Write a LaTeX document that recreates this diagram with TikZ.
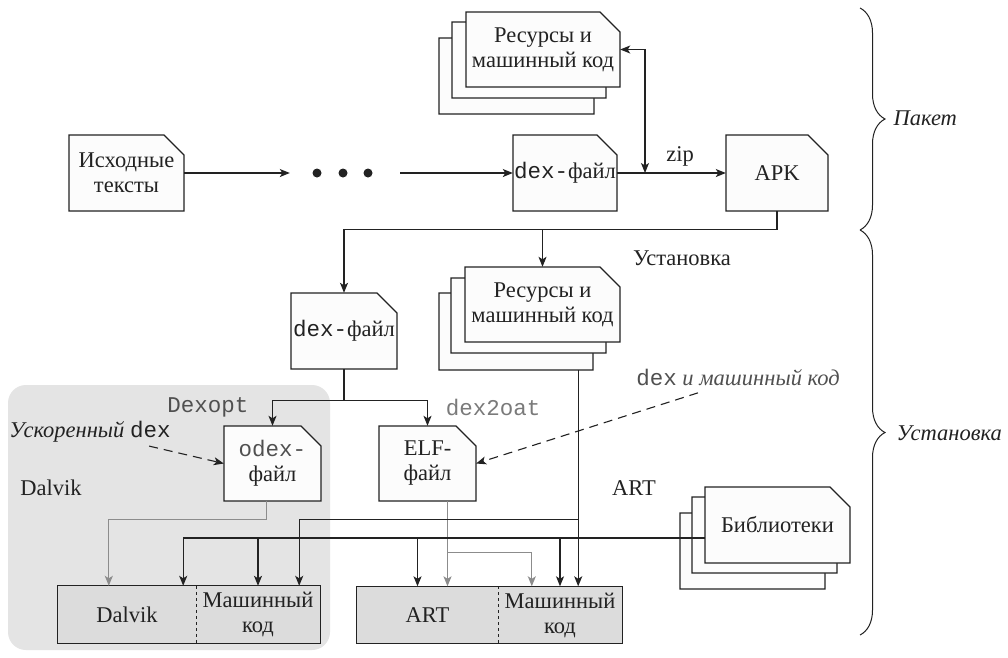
\documentclass[tikz,border=0pt]{standalone}
\usepackage{fontspec}
\setmainfont{Liberation Serif}
\setmonofont{Liberation Mono}
\usetikzlibrary{arrows.meta,decorations.pathreplacing,calc}
\definecolor{ink}{HTML}{222222}
\definecolor{soft}{HTML}{8C8C8C}
\definecolor{region}{HTML}{E4E4E4}
\definecolor{boxgray}{HTML}{DCDCDC}
\definecolor{docwhite}{HTML}{FCFCFC}
\definecolor{monogray}{HTML}{505050}
\definecolor{lightmono}{HTML}{7A7A7A}
\newcommand\dcut{20}
% [opts] name left top right bottom text
\newcommand\docnode[7][]{%
  \filldraw[docshape] (#3,#6) -- (#3,#4) -- ({#5-\dcut},#4) -- (#5,{#4+\dcut}) -- (#5,#6) -- cycle;
  \node[doctext,#1, minimum width={(#5-#3)*1pt}, minimum height={(#6-#4)*1pt}] (#2) at ({(#3+#5)/2},{(#4+#6)/2}) {#7};
}
\begin{document}
\begin{tikzpicture}[x=1pt,y=-1pt,
  >={Stealth[length=10pt,width=8pt,inset=2.5pt]},
  every node/.style={font=\fontsize{22.5}{25}\selectfont, text=ink},
  docshape/.style={draw=ink, fill=docwhite, line width=1.1pt},
  doctext/.style={draw=none, inner sep=0pt, align=center},
  seg/.style={draw=none, fill=boxgray, inner sep=0pt, minimum height=57pt, align=center},
  conn/.style={draw=ink, line width=1.1pt},
  arr/.style={conn, ->},
  garr/.style={draw=soft, line width=1.1pt, ->},
  dasharr/.style={conn, ->, dash pattern=on 9pt off 6pt},
  monolabel/.style={font=\fontsize{22.5}{25}\selectfont\ttfamily},
  bracestyle/.style={draw=ink, line width=1pt, decorate, decoration={brace, amplitude=25pt}}
]
\fill[white] (0,0) rectangle (1008,657);
\useasboundingbox (0,0) rectangle (1008,657);
\fill[region, rounded corners=18pt] (8,385) rectangle (330,650);

% documents
\docnode{src}{69}{135}{184}{211}{Исходные\\тексты}
\docnode{dex1}{513}{135}{617}{211}{\texttt{dex-}файл}
\docnode{res1c}{439}{38}{594}{114}{}
\docnode{res1b}{452}{22}{606}{98}{}
\docnode{res1}{466}{12}{620}{87}{Ресурсы и\\машинный код}
\docnode{apk}{726}{135}{828}{211}{APK}
\docnode{dex2}{291}{293}{397}{369}{\texttt{dex-}файл}
\docnode{res2c}{439}{293}{593}{370}{}
\docnode{res2b}{451}{278}{606}{353}{}
\docnode{res2}{465}{267}{620}{342}{Ресурсы и\\машинный код}
\docnode{odex}{224}{426}{321}{501}{\textcolor{monogray}{\texttt{odex-}}\\файл}
\docnode{elf}{379}{426}{476}{501}{ELF-\\файл}
\docnode{libc}{680}{513}{825}{589}{}
\docnode{libb}{692}{497}{837}{573}{}
\docnode{lib}{705}{487}{850}{563}{\raisebox{-10pt}{Библиотеки}}

% dots
\node[draw=none, inner sep=0pt, minimum width=110pt, minimum height=10pt] (dots) at (345,173) {};
\fill[ink] (317,173) circle (4.5) (343,173) circle (4.5) (368,173) circle (4.5);
\draw[arr] (src.east) -- (dots.west);
\draw[arr] (dots.east) -- (dex1.west);
\draw[arr] (dex1.east) -- node[above=3pt, pos=0.58] (zip) {zip} (apk.west);
\coordinate (j1) at (645,173);
\draw[conn, <->] (res1.east) -| (j1);

% installation
\path (apk.south) ++(0,18) coordinate (h1);
\draw[arr] (apk.south) -- (h1) -| (dex2.north);
\draw[arr] (h1 -| res2.north) -- (res2.north);
\node (inst) at (682,258) {Установка};

\draw[conn] (dex2.south) -- ++(0,31) coordinate (h2);
\draw[arr] (h2) -| (odex.north);
\draw[arr] (h2) -| (elf.north);
\node[monolabel, text=monogray] (dexopt) at (208,407) {Dexopt};
\node[monolabel, text=lightmono] (d2o) at (493,407) {dex2oat};

\node (dalvl) at (51,488) {Dalvik};
\node (artl) at (634,488) {ART};
\node (acc) at (90,432) {\itshape Ускоренный \upshape\texttt{dex}};
\node[text=monogray] (dmk) at (738,377) {\texttt{dex} \itshape и машинный код};
\draw[dasharr] ($(acc.south east)+(-25,0)$) -- (odex.west);
\draw[dasharr] ($(dmk.south)+(-40,4)$) -- (elf.east);

% bottom boxes
\node[seg, minimum width=138pt] (dvm) at (127,614.5) {Dalvik};
\node[seg, minimum width=124pt] (dmc) at (258,614.5) {Машинный\\код};
\draw[conn] (dvm.north west) rectangle (dmc.south east);
\draw[conn, dashed] (dvm.north east) -- (dvm.south east);
\node[seg, minimum width=141pt] (art) at (427.5,615) {ART};
\node[seg, minimum width=124pt] (amc) at (560,615) {Машинный\\код};
\draw[conn] (art.north west) rectangle (amc.south east);
\draw[conn, dashed] (art.north east) -- (art.south east);

% gray connectors
\draw[garr] ($(odex.south)+(-6,0)$) -- ++(0,18) -| ($(dvm.north west)+(51,0)$);
\coordinate (eo) at ($(elf.south)+(20,0)$);
\draw[garr] (eo) -- (eo |- art.north);
\draw[garr] (eo) ++(0,51) -| ($(amc.north west)+(34,0)$);

% resources connectors
\coordinate (r2o) at ($(res2c.south east)+(-15,0)$);
\draw[arr] (r2o) -- (r2o |- amc.north);
\path (r2o) ++(0,149) coordinate (h3);
\draw[arr] (h3) -| ($(dmc.north east)+(-21,0)$);

% libraries connectors
\coordinate (lin) at ($(lib.west)+(0,13)$);
\draw[arr] (lin) -| ($(dvm.north east)+(-13,0)$);
\draw[arr] (lin -| dmc.north) -- (dmc.north);
\draw[arr] ($(lin -| art.north)+(-10,0)$) -- ($(art.north)+(-10,0)$);
\draw[arr] (lin -| amc.north) -- (amc.north);

% braces
\draw[bracestyle] (860,8) -- (860,230);
\draw[bracestyle] (860,230) -- (860,635);
\node[anchor=west] (pak) at (890,118) {\itshape Пакет};
\node[anchor=west] (ust) at (893,433) {\itshape Установка};
\end{tikzpicture}
\end{document}
